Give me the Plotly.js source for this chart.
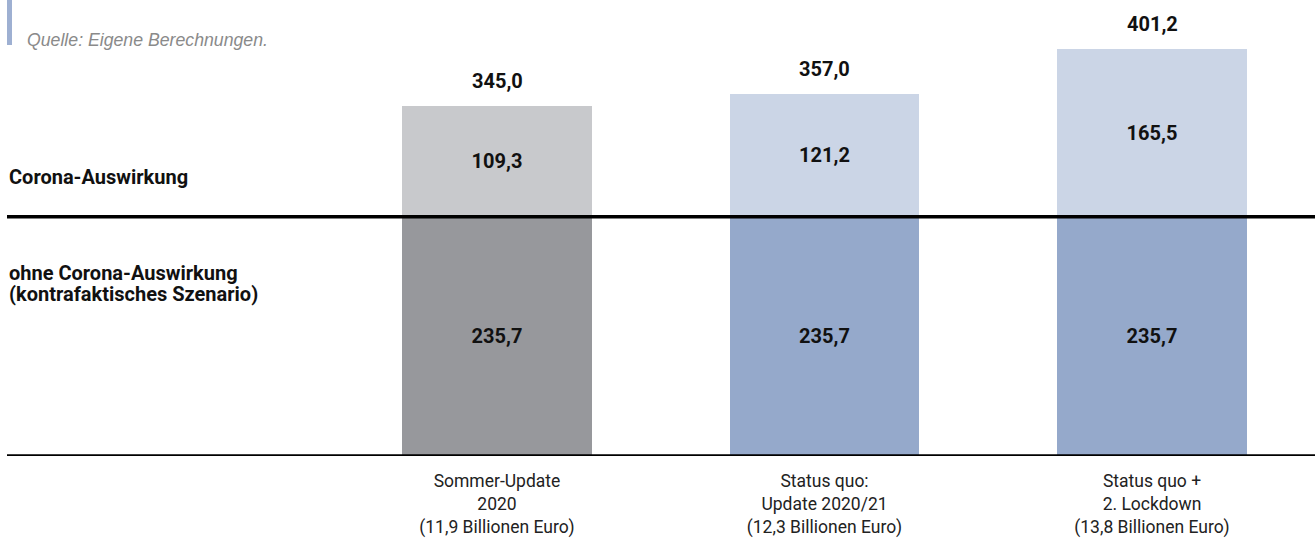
<!DOCTYPE html>
<html>
<head>
<meta charset="utf-8">
<script src="https://cdn.plot.ly/plotly-3.0.1.min.js"></script>
<style>html,body{margin:0;padding:0;background:#fff;}#chart{width:1315px;height:541px;}</style>
</head>
<body>
<div id="chart"></div>
<script>
// Data
const categories = [
  "Sommer-Update<br>2020<br>(11,9 Billionen Euro)",
  "Status quo:<br>Update 2020/21<br>(12,3 Billionen Euro)",
  "Status quo +<br>2. Lockdown<br>(13,8 Billionen Euro)"
];
const ohneCorona = [235.7, 235.7, 235.7];
const coronaAuswirkung = [109.3, 121.2, 165.5];
const totals = [345.0, 357.0, 401.2];
const seriesLabelUpper = ["Corona-Auswirkung"];
const seriesLabelLower = ["ohne Corona-Auswirkung", "(kontrafaktisches Szenario)"];
const sourceText = "Quelle: Eigene Berechnungen.";

const colorsLower = ["#97989c", "#95a9cb", "#95a9cb"];
const colorsUpper = ["#c8c9cc", "#cbd5e6", "#cbd5e6"];

const W = 1315, H = 541;
const baseY = 456;           // pixel of zero line
const pxPerUnit = 1.015;
const xIdx = categories.map((_, i) => i);
const FONT = "Roboto, 'Liberation Sans', Arial, sans-serif";

const barCommon = {
  type: 'bar', x: xIdx, width: 0.58,
  texttemplate: '<b>%{y:.1f}</b>', textposition: 'inside', insidetextanchor: 'middle',
  textfont: {family: FONT, size: 20, color: '#111'},
  hoverinfo: 'skip'
};

const traces = [
  Object.assign({}, barCommon, {name: seriesLabelLower.join(' '), y: ohneCorona, marker: {color: colorsLower, line: {width: 0}}}),
  Object.assign({}, barCommon, {name: seriesLabelUpper[0], y: coronaAuswirkung, marker: {color: colorsUpper, line: {width: 0}}})
];

const unit = 327.5, c0 = 497;
const xRange = [-c0 / unit, (W - c0) / unit];

const annotations = totals.map((t, i) => ({
  x: i, y: t, xref: 'x', yref: 'y', text: '<b>' + t.toFixed(1).replace('.', ',') + '</b>',
  showarrow: false, yanchor: 'bottom', yshift: 11,
  font: {family: FONT, size: 20, color: '#111'}
}));
const py = p => (baseY - p) / baseY;
const leftLabel = (txt, yc) => ({
  xref: 'paper', yref: 'paper', x: 7 / W, y: py(yc), xanchor: 'left', yanchor: 'middle',
  text: '<b>' + txt + '</b>', showarrow: false, align: 'left',
  font: {family: FONT, size: 20, color: '#111'}
});
annotations.push(leftLabel(seriesLabelUpper[0], 177));
annotations.push(leftLabel(seriesLabelLower[0], 273));
annotations.push(leftLabel(seriesLabelLower[1], 294));
annotations.push({
  xref: 'paper', yref: 'paper', x: 25 / W, y: py(40), xanchor: 'left', yanchor: 'middle',
  text: '<i>' + sourceText + '</i>', showarrow: false,
  font: {family: "'Liberation Sans', Arial, sans-serif", size: 17.7, color: '#8a8a8a'}
});

const shapes = [
  {type: 'rect', xref: 'paper', yref: 'paper', x0: 7 / W, x1: 12 / W, y0: py(45), y1: 1, fillcolor: '#9eb0d2', line: {width: 0}, layer: 'above'},
  {type: 'line', xref: 'paper', yref: 'y', x0: 7 / W, x1: 1, y0: ohneCorona[0], y1: ohneCorona[0], line: {color: '#000', width: 3.5}, layer: 'above'},
  {type: 'line', xref: 'paper', yref: 'y', x0: 7 / W, x1: 1, y0: 0, y1: 0, line: {color: '#000', width: 3.5}, layer: 'above'}
];

const layout = {
  width: W, height: H,
  margin: {l: 0, r: 0, t: 0, b: H - baseY},
  barmode: 'stack', showlegend: false,
  separators: ',.',
  paper_bgcolor: '#fff', plot_bgcolor: '#fff',
  xaxis: {
    range: xRange, tickmode: 'array', tickvals: xIdx, ticktext: categories,
    showgrid: false, zeroline: false, showline: false,
    ticks: 'outside', ticklen: 9, tickcolor: 'rgba(0,0,0,0)',
    tickfont: {family: FONT, size: 17.5, color: '#222'}, fixedrange: true
  },
  yaxis: {
    range: [0, baseY / pxPerUnit], visible: false, showgrid: false, zeroline: false, fixedrange: true
  },
  annotations: annotations, shapes: shapes,
  font: {family: FONT}
};

Plotly.newPlot('chart', traces, layout, {displayModeBar: false, staticPlot: true});
</script>
</body>
</html>
